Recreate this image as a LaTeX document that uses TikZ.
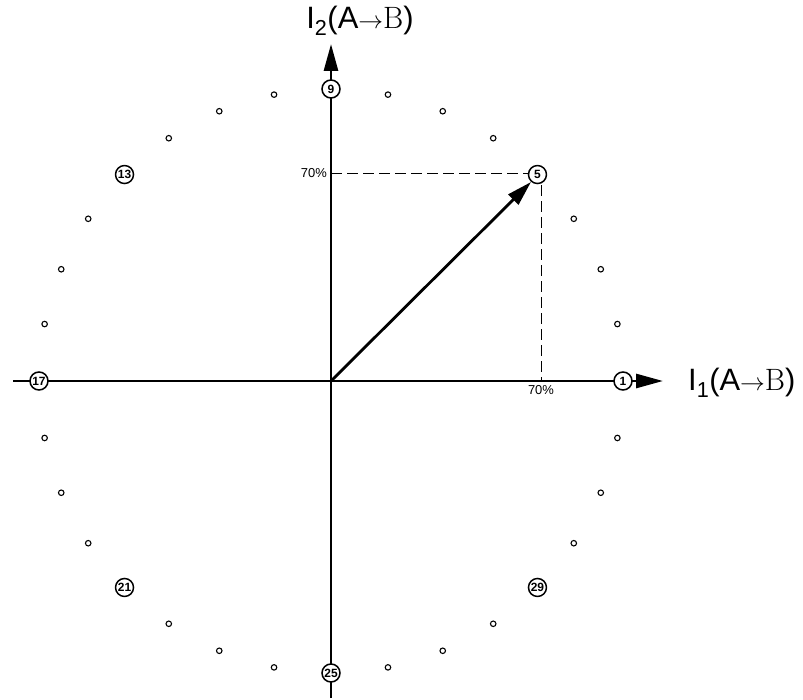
\documentclass[tikz,border=0pt]{standalone}
\usepackage{fontspec}
\setmainfont{Liberation Sans}
\newfontfamily\serifB{Latin Modern Roman}
\usetikzlibrary{arrows.meta}
\begin{document}
\begin{tikzpicture}[x=1bp,y=-1bp,
  axis/.style={line width=2.8bp,-{Triangle[length=27bp,width=14bp]}},
  vec/.style={line width=2.8bp,-{Triangle[length=25bp,width=14bp]}},
  guide/.style={line width=1bp,dash pattern=on 11bp off 5bp},
  pt/.style={circle,draw,line width=1.1bp,fill=white,inner sep=0pt,minimum size=5.5bp},
  numpt/.style={circle,draw,line width=1.5bp,fill=white,inner sep=0pt,minimum size=18bp,font=\fontsize{12}{12}\selectfont\bfseries},
  pct/.style={font=\fontsize{13}{13}\selectfont,inner sep=1bp},
  axlab/.style={font=\fontsize{31}{31}\selectfont,inner sep=0pt}]
\useasboundingbox (0,0) rectangle (803,700);
\coordinate (O) at (331,381);
\coordinate (xl) at (13,381);
\coordinate (xr) at (663,381);
\coordinate (yb) at (331,698);
\coordinate (yt) at (331,44);
\coordinate (h70) at (331,173);
\coordinate (h5) at (530,173);
\coordinate (v70) at (541,381);
\coordinate (v5) at (541,185);
\coordinate (tip) at (531,182);
% dashed guides
\draw[guide] (h70) -- (h5);
\draw[guide] (v5) -- (v70);
% axes
\draw[axis] (xl) -- (xr);
\draw[axis] (yb) -- (yt);
% vector
\draw[vec] (O) -- (tip);
% points
\foreach \k in {0,...,31}{
  \pgfmathtruncatemacro{\m}{mod(\k,4)}
  \pgfmathtruncatemacro{\n}{\k+1}
  \ifnum\m=0
    \node[numpt] (c\n) at ({331+292*cos(\k*11.25)},{381-292*sin(\k*11.25)}) {\n};
  \else
    \node[pt] (c\n) at ({331+292*cos(\k*11.25)},{381-292*sin(\k*11.25)}) {};
  \fi
}
% labels
\node[pct,anchor=east] (l70a) at (328,173) {70\%};
\node[pct,anchor=north] (l70b) at (541,384) {70\%};
\node[axlab,anchor=west] (labx) at (688,383) {I\textsubscript{1}(A$\rightarrow${\serifB B})};
\node[axlab] (laby) at (360,21) {I\textsubscript{2}(A$\rightarrow${\serifB B})};
\end{tikzpicture}
\end{document}
